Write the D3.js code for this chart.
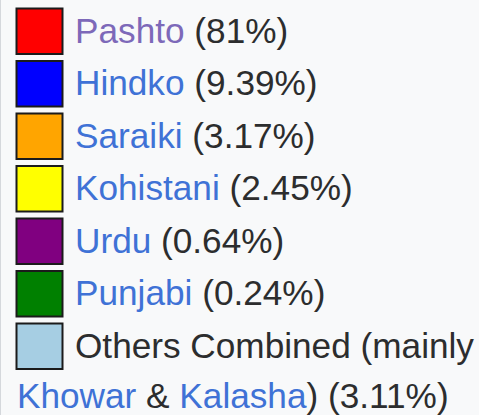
<!DOCTYPE html>
<html>
<head>
<meta charset="utf-8">
<script src="https://cdn.jsdelivr.net/npm/d3@7"></script>
<style>
  html, body { margin: 0; padding: 0; background: #f8f9fa; overflow: hidden; }
  svg text { font-family: "Liberation Sans", Arial, sans-serif; }
</style>
</head>
<body>
<script>
// legend entries
const languages = ["Pashto", "Hindko", "Saraiki", "Kohistani", "Urdu", "Punjabi", "Others Combined"];
const shares = ["81%", "9.39%", "3.17%", "2.45%", "0.64%", "0.24%", "3.11%"];
const swatchColors = ["#ff0000", "#0000ff", "#ffa500", "#ffff00", "#800080", "#008000", "#a6cee3"];
const isLink = [true, true, true, true, true, true, false];
const visited = [true, false, false, false, false, false, false];
const othersNote = ["Khowar", "Kalasha"];

const w = 479, h = 415;
const fontSize = 35.2;
const linkColor = "#3f72d6", visitedColor = "#7d69b9", textColor = "#2c2d2e";

const svg = d3.select("body").append("svg")
    .attr("width", w)
    .attr("height", h);

// thin page border at the left
svg.append("line")
    .attr("x1", 0.5).attr("x2", 0.5)
    .attr("y1", 0).attr("y2", h)
    .attr("stroke", "#d5d8dc");

const y = d3.scaleBand()
    .domain(languages)
    .range([5, 5 + 52.5 * languages.length])
    .paddingInner(0);

const rows = svg.selectAll("g.row")
    .data(languages)
    .join("g")
    .attr("class", "row")
    .attr("transform", d => `translate(0,${y(d)})`);

rows.append("rect")
    .attr("x", 16.5)
    .attr("y", 3.5)
    .attr("width", 46)
    .attr("height", 45.5)
    .attr("fill", (d, i) => swatchColors[i])
    .attr("stroke", "#1b1b1b")
    .attr("stroke-width", 2);

const labels = rows.append("text")
    .attr("x", 75)
    .attr("y", 37.5)
    .attr("font-size", fontSize);

labels.append("tspan")
    .attr("fill", (d, i) => isLink[i] ? (visited[i] ? visitedColor : linkColor) : textColor)
    .text(d => d);

labels.append("tspan")
    .attr("fill", textColor)
    .text((d, i) => i === languages.length - 1 ? " (mainly" : ` (${shares[i]})`);

// wrapped continuation of the last entry
const last = svg.append("text")
    .attr("x", 17)
    .attr("y", y(languages[languages.length - 1]) + 37.5 + 50)
    .attr("font-size", fontSize);
last.append("tspan").attr("fill", linkColor).text(othersNote[0]);
last.append("tspan").attr("fill", textColor).text(" & ");
last.append("tspan").attr("fill", linkColor).text(othersNote[1]);
last.append("tspan").attr("fill", textColor).text(`) (${shares[shares.length - 1]})`);
</script>
</body>
</html>
